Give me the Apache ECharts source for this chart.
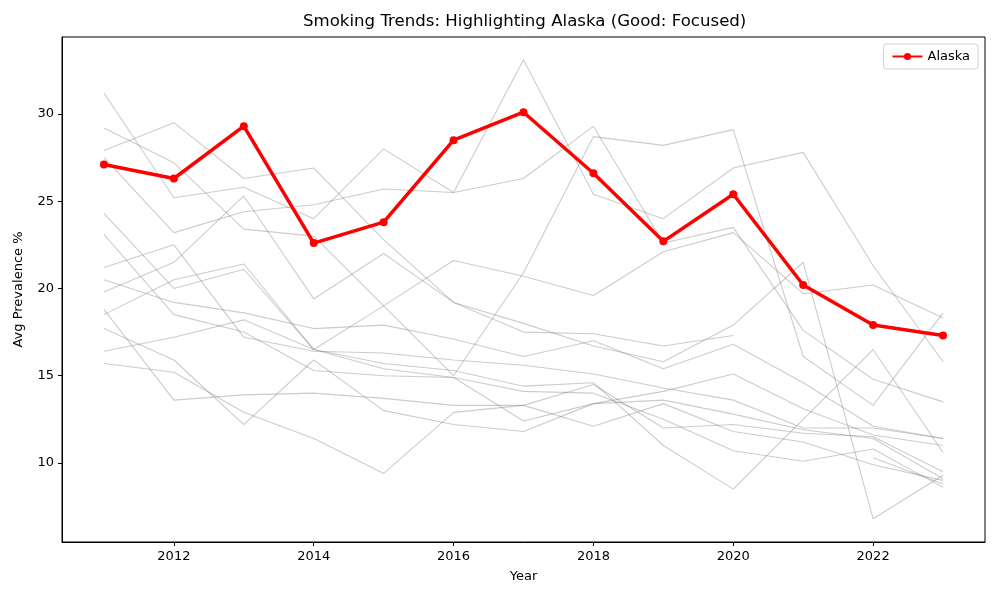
<!DOCTYPE html>
<html>
<head>
<meta charset="utf-8">
<title>Smoking Trends</title>
<script src="https://cdn.jsdelivr.net/npm/echarts@6/dist/echarts.min.js"></script>
<style>
  html, body { margin: 0; padding: 0; background: #fff; }
  #chart { width: 1000px; height: 600px; }
</style>
</head>
<body>
<div id="chart"></div>
<script>
// 年份
const years = [2011, 2012, 2013, 2014, 2015, 2016, 2017, 2018, 2019, 2020, 2021, 2022, 2023];

// 重点州
const alaska = [27.1, 26.3, 29.3, 22.6, 23.8, 28.5, 30.1, 26.6, 22.7, 25.4, 20.2, 17.9, 17.3];

// 其他州（灰色背景线），null = 缺失
const other01 = [31.2, 25.2, 25.8, 24.0, 28.0, 25.5, 33.1, 25.4, 24.0, 26.9, 27.8, 21.3, 15.8];
const other02 = [29.2, 27.2, 23.4, 23.0, 19.0, 15.0, 20.9, 28.7, 28.2, 29.1, 16.1, 13.3, 18.6];
const other03 = [27.9, 29.5, 26.3, 26.9, 22.8, 19.2, 18.0, 16.7, 15.8, 17.9, 21.5, 6.8, 9.3];
const other04 = [27.5, 23.2, 24.4, 24.8, 25.7, 25.5, 26.3, 29.3, 22.6, 23.5, 17.6, 14.8, 13.5];
const other05 = [24.3, 20.0, 21.1, 16.5, 19.0, 21.6, 20.7, 19.6, 22.1, 23.2, 19.7, 20.2, 18.3];
const other06 = [23.1, 18.5, 17.5, 15.3, 15.0, 14.9, 14.1, 14.0, 12.5, 10.7, 10.1, 10.8, 8.6];
const other07 = [21.2, 22.5, 17.2, 16.4, 16.3, 15.9, 15.6, 15.1, 14.3, 13.6, 12.0, 12.0, 11.4];
const other08 = [20.5, 19.2, 18.6, 17.7, 17.9, 17.1, 16.1, 17.0, 15.4, 16.8, 14.6, 12.1, 11.4];
const other09 = [19.8, 21.5, 25.3, 19.4, 22.0, 19.2, 17.5, 17.4, 16.7, 17.3, null, 10.3, 8.8];
const other10 = [18.8, 13.6, 13.9, 14.0, 13.7, 13.3, 13.3, 12.1, 13.4, 11.8, 11.2, 9.9, 9.0];
const other11 = [18.5, 20.5, 21.4, 16.5, 15.4, 14.9, 12.4, 13.4, 14.1, 15.1, 13.1, 11.6, 11.0];
const other12 = [17.7, 15.9, 12.2, 15.9, 13.0, 12.2, 11.8, 13.4, 13.6, 12.8, 11.9, 11.4, 9.1];
const other13 = [16.4, 17.2, 18.2, 16.5, 15.7, 15.3, 14.4, 14.6, 11.0, 8.5, 12.5, 16.5, 10.6];
const other14 = [15.7, 15.2, 12.9, 11.4, 9.4, 12.9, 13.3, 14.5, 12.0, 12.2, 11.7, 11.5, 9.5];

const others = [other01, other02, other03, other04, other05, other06, other07,
                other08, other09, other10, other11, other12, other13, other14];

const font = 'DejaVu Sans';

function pairs(values) {
    return years.map((y, i) => [y, values[i] == null ? '-' : values[i]]);
}

const myChart = echarts.init(document.getElementById('chart'));

const seriesList = others.map((vals, i) => ({
    name: 'other' + (i + 1),
    type: 'line',
    data: pairs(vals),
    showSymbol: false,
    symbol: 'none',
    connectNulls: false,
    lineStyle: { color: 'rgba(128,128,128,0.4)', width: 1.1 },
    z: 2,
    silent: true
}));

seriesList.push({
    name: 'Alaska',
    type: 'line',
    data: pairs(alaska),
    symbol: 'circle',
    symbolSize: 8,
    itemStyle: { color: '#ff0000' },
    lineStyle: { color: '#ff0000', width: 3.5 },
    z: 10
});

const option = {
    animation: false,
    backgroundColor: '#fff',
    textStyle: { fontFamily: font },
    title: {
        text: 'Smoking Trends: Highlighting Alaska (Good: Focused)',
        left: 303,
        top: 13,
        padding: 0,
        textStyle: { fontFamily: font, fontSize: 16.6, fontWeight: 'normal', color: '#000' }
    },
    legend: {
        data: ['Alaska'],
        right: 22,
        top: 44,
        padding: [6, 8, 6, 8],
        itemWidth: 30,
        itemHeight: 9,
        borderColor: '#d0d0d0',
        borderWidth: 1,
        borderRadius: 3,
        backgroundColor: '#fff',
        textStyle: { fontFamily: font, fontSize: 13, color: '#000' }
    },
    grid: {
        left: 62,
        right: 15,
        top: 37,
        bottom: 58,
        show: true,
        borderColor: '#000',
        borderWidth: 1,
        backgroundColor: '#fff'
    },
    xAxis: {
        type: 'value',
        min: 2010.4,
        max: 2023.6,
        minInterval: 2,
        maxInterval: 2,
        name: 'Year',
        nameLocation: 'middle',
        nameGap: 28,
        nameTextStyle: { fontFamily: font, fontSize: 13, color: '#000' },
        axisLine: { show: true, lineStyle: { color: '#000', width: 1 } },
        axisTick: { show: true, length: 4, lineStyle: { color: '#000' } },
        axisLabel: {
            showMinLabel: false,
            showMaxLabel: false,
            margin: 8,
            fontFamily: font,
            fontSize: 13,
            color: '#000',
            formatter: v => (v % 2 === 0 ? String(v) : '')
        },
        splitLine: { show: false }
    },
    yAxis: {
        type: 'value',
        min: 5.47,
        max: 34.41,
        minInterval: 5,
        maxInterval: 5,
        name: 'Avg Prevalence %',
        nameLocation: 'middle',
        nameGap: 37,
        nameTextStyle: { fontFamily: font, fontSize: 13, color: '#000' },
        axisLine: { show: true, lineStyle: { color: '#000', width: 1 } },
        axisTick: { show: true, length: 4, lineStyle: { color: '#000' } },
        axisLabel: {
            showMinLabel: false,
            showMaxLabel: false,
            margin: 8,
            fontFamily: font,
            fontSize: 13,
            color: '#000',
            formatter: v => (v % 5 === 0 ? String(v) : '')
        },
        splitLine: { show: false }
    },
    series: seriesList
};

myChart.setOption(option);
</script>
</body>
</html>
